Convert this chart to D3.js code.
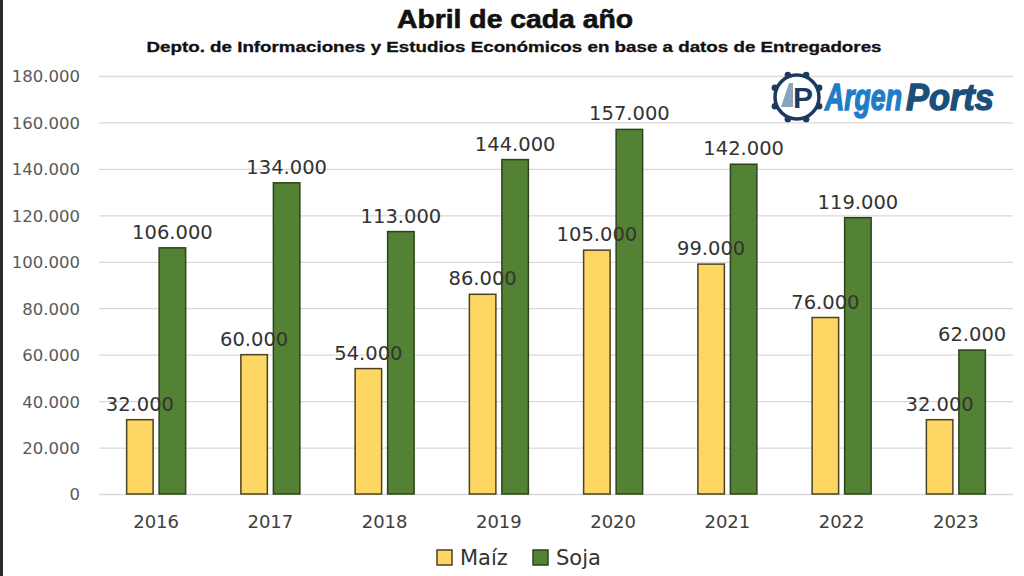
<!DOCTYPE html>
<html><head><meta charset="utf-8">
<script src="https://cdn.jsdelivr.net/npm/d3@7"></script>
<style>html,body{margin:0;padding:0;background:#fff;}svg{display:block;}</style>
</head><body>
<svg id="c" width="1024" height="576"></svg>
<script>
const years = ["2016","2017","2018","2019","2020","2021","2022","2023"];
const maiz = [32000,60000,54000,86000,105000,99000,76000,32000];
const soja = [106000,134000,113000,144000,157000,142000,119000,62000];
const seriesNames = ["Maíz","Soja"];
const yTicks = [0,20000,40000,60000,80000,100000,120000,140000,160000,180000];
const title = "Abril de cada año";
const subtitle = "Depto. de Informaciones y Estudios Económicos en base a datos de Entregadores";

const colors = {"Maíz":"#FDD663","Soja":"#548235"};
const strokes = {"Maíz":"#4a4220","Soja":"#2c431c"};
const loc = d3.formatLocale({decimal:",",thousands:".",grouping:[3],currency:["$",""]});
const fmt = loc.format(",d");

const svg = d3.select("#c");
const x0 = d3.scaleBand().domain(years).range([99,1013]);
const x1 = d3.scaleBand().domain(seriesNames).range([-29.5,29.5]).paddingInner(0.185);
const y = d3.scaleLinear().domain([0,180000]).range([494,76]);

// left border
svg.append("line").attr("x1",1.5).attr("x2",1.5).attr("y1",0).attr("y2",576).attr("stroke","#2a2a2a").attr("stroke-width",3);

// titles
svg.append("text").attr("x",515).attr("y",28).attr("text-anchor","middle")
  .attr("font-family","Liberation Sans, Arial, sans-serif").attr("font-weight","bold").attr("font-size",25)
  .attr("stroke","#111").attr("stroke-width",0.6)
  .attr("textLength",236).attr("lengthAdjust","spacingAndGlyphs").attr("fill","#111").text(title);
svg.append("text").attr("x",514).attr("y",52).attr("text-anchor","middle")
  .attr("font-family","Liberation Sans Narrow, Liberation Sans, Arial, sans-serif").attr("font-weight","bold").attr("font-size",15.5)
  .attr("stroke","#111").attr("stroke-width",0.3)
  .attr("textLength",735).attr("lengthAdjust","spacingAndGlyphs").attr("fill","#111").text(subtitle);

// grid + y axis
const yAxis = d3.axisLeft(y).tickValues(yTicks).tickSize(-(1013-99)).tickFormat(fmt);
const gy = svg.append("g").attr("transform","translate(99,0)").call(yAxis);
gy.select(".domain").remove();
gy.selectAll(".tick line").attr("stroke","#d9d9d9").attr("stroke-width",1.3);
gy.selectAll(".tick text").attr("x",-19).attr("dy","0.36em").attr("fill","#595959")
  .attr("font-family","DejaVu Sans, sans-serif").attr("font-size",16.5);

// x axis labels
const xAxis = d3.axisBottom(x0).tickSize(0);
const gx = svg.append("g").attr("transform","translate(0,494)").call(xAxis);
gx.select(".domain").remove();
gx.selectAll(".tick text").attr("y",21).attr("dy","0.71em").attr("fill","#404040")
  .attr("font-family","DejaVu Sans, sans-serif").attr("font-size",18);

// bars
const data = years.map((yr,i)=>({year:yr, vals:[{s:"Maíz",v:maiz[i]},{s:"Soja",v:soja[i]}]}));
const groups = svg.append("g").selectAll("g").data(data).join("g")
  .attr("transform",d=>`translate(${x0(d.year)+x0.bandwidth()/2},0)`);
groups.selectAll("rect").data(d=>d.vals).join("rect")
  .attr("x",d=>x1(d.s)).attr("width",x1.bandwidth())
  .attr("y",d=>y(d.v)).attr("height",d=>y(0)-y(d.v))
  .attr("fill",d=>colors[d.s]).attr("stroke",d=>strokes[d.s]).attr("stroke-width",1.5);
// labels (drawn after all bars)
const lg = svg.append("g").selectAll("g").data(data).join("g")
  .attr("transform",d=>`translate(${x0(d.year)+x0.bandwidth()/2},0)`);
lg.selectAll("text").data(d=>d.vals).join("text")
  .attr("x",d=>x1(d.s)+x1.bandwidth()/2).attr("y",d=>y(d.v)-9)
  .attr("text-anchor","middle").attr("fill","#333")
  .attr("font-family","DejaVu Sans, sans-serif").attr("font-size",19.5)
  .text(d=>fmt(d.v));

// legend
const legX = [437,533];
const leg = svg.append("g").selectAll("g").data(seriesNames).join("g")
  .attr("transform",(d,i)=>`translate(${legX[i]},550)`);
leg.append("rect").attr("width",15).attr("height",15).attr("fill",d=>colors[d]).attr("stroke",d=>strokes[d]).attr("stroke-width",1.5);
leg.append("text").attr("x",23).attr("y",15).attr("fill","#333")
  .attr("font-family","DejaVu Sans, sans-serif").attr("font-size",21).text(d=>d);

// logo
const logo = svg.append("g").attr("transform","translate(797,97)");
logo.append("circle").attr("r",22).attr("fill","none").attr("stroke","#1d3a5e").attr("stroke-width",3.5);
d3.range(8).forEach(k=>{
  const a = k*Math.PI/4 + Math.PI/8;
  logo.append("circle").attr("cx",24*Math.cos(a)).attr("cy",24*Math.sin(a)).attr("r",3.2).attr("fill","#1d3a5e");
});
logo.append("path").attr("d","M-16,10 L-8,-14 L-4,-14 L-4,10 Z").attr("fill","#8aa4c0");
logo.append("text").attr("x",6).attr("y",11).attr("text-anchor","middle").attr("font-family","Liberation Sans, Arial, sans-serif")
  .attr("font-weight","bold").attr("font-size",30).attr("fill","#1d3a5e").text("P");
svg.append("g").attr("transform","translate(825,110) scale(0.72,1)")
  .append("text").attr("x",0).attr("y",0).attr("font-family","Liberation Sans, Arial, sans-serif")
  .attr("font-weight","bold").attr("font-style","italic").attr("font-size",37)
  .attr("stroke","#1f7cc6").attr("stroke-width",1.4).attr("fill","#1f7cc6").text("Argen");
svg.append("g").attr("transform","translate(906,110) scale(0.93,1)")
  .append("text").attr("x",0).attr("y",0).attr("font-family","Liberation Sans, Arial, sans-serif")
  .attr("font-weight","bold").attr("font-style","italic").attr("font-size",37)
  .attr("stroke","#1b4f7c").attr("stroke-width",1.4).attr("fill","#1b4f7c").text("Ports");
</script>
</body></html>
